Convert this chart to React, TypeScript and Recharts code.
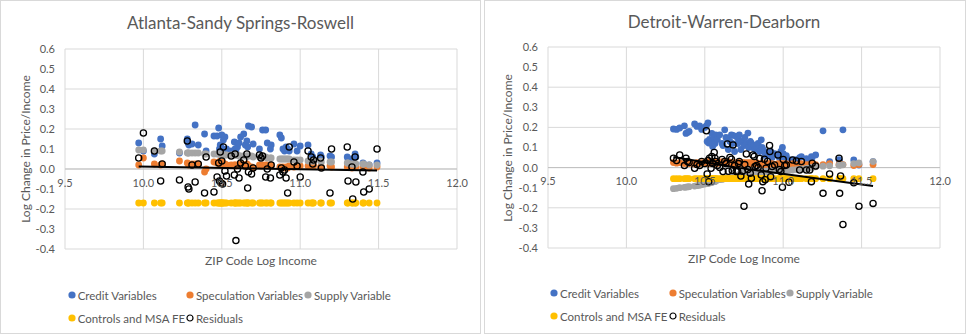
import {
  CartesianGrid,
  ReferenceDot,
  ReferenceLine,
  Scatter,
  ScatterChart,
  XAxis,
  YAxis,
} from "recharts";

const xTicks = [9.5, 10.0, 10.5, 11.0, 11.5, 12.0];
const yTicks = [-0.4, -0.3, -0.2, -0.1, 0.0, 0.1, 0.2, 0.3, 0.4, 0.5, 0.6];

const seriesNames = [
  "Credit Variables",
  "Speculation Variables",
  "Supply Variable",
  "Controls and MSA FE",
  "Residuals",
];
const seriesColors = ["#4472C4", "#ED7D31", "#A5A5A5", "#FFC000", "#000000"];

// Atlanta-Sandy Springs-Roswell
const atlIncome = [
  9.97, 10.0, 10.07, 10.11, 10.12, 10.23, 10.28, 10.285, 10.29, 10.31,
  10.33, 10.35, 10.39, 10.4, 10.45, 10.47, 10.48, 10.485, 10.49, 10.495,
  10.5, 10.505, 10.51, 10.52, 10.53, 10.56, 10.58, 10.585, 10.59, 10.6,
  10.61, 10.62, 10.64, 10.65, 10.66, 10.665, 10.67, 10.69, 10.7, 10.74,
  10.75, 10.76, 10.78, 10.79, 10.81, 10.815, 10.87, 10.88, 10.89, 10.9,
  10.91, 10.92, 10.93, 10.96, 10.98, 11.0, 11.05, 11.07, 11.08, 11.085,
  11.13, 11.135, 11.19, 11.2, 11.3, 11.305, 11.33, 11.335, 11.35, 11.355,
  11.4, 11.405, 11.44, 11.49,
];
const atlCredit = [
  0.13, 0.09, 0.075, 0.15, 0.115, 0.08, 0.15, 0.13, 0.12, 0.125,
  0.22, 0.12, 0.175, 0.09, 0.165, 0.165, 0.205, 0.1, 0.12, 0.11,
  0.17, 0.1, 0.145, 0.16, 0.1, 0.09, 0.135, 0.1, 0.09, 0.11,
  0.13, 0.16, 0.175, 0.12, 0.14, 0.11, 0.215, 0.21, 0.125, 0.1,
  0.06, 0.195, 0.195, 0.13, 0.1, 0.12, 0.17, 0.155, 0.1, 0.09,
  0.11, 0.1, 0.09, 0.125, 0.09, 0.115, 0.12, 0.075, 0.06, 0.05,
  0.07, 0.06, 0.065, 0.06, 0.06, 0.05, 0.05, 0.04, 0.075, 0.06,
  0.03, 0.025, 0.02, 0.03,
];
const atlSpec = [
  0.02, 0.055, 0.025, 0.02, 0.025, 0.04, 0.03, 0.025, 0.02, 0.025,
  0.025, 0.025, -0.015, 0.0, 0.035, 0.03, 0.03, 0.025, 0.04, 0.03,
  0.035, 0.03, 0.02, 0.025, 0.02, 0.02, 0.02, 0.02, 0.015, 0.02,
  0.02, 0.025, 0.02, 0.02, 0.025, 0.02, 0.015, 0.01, 0.005, 0.02,
  0.015, 0.02, 0.02, 0.02, 0.02, 0.015, 0.01, 0.005, 0.01, 0.005,
  0.01, 0.005, 0.015, 0.01, 0.015, 0.015, 0.015, 0.015, 0.015, 0.015,
  0.01, 0.01, 0.015, 0.01, 0.01, 0.01, 0.005, 0.01, 0.01, 0.01,
  0.01, 0.01, 0.005, 0.01,
];
const atlSupply = [
  0.095, 0.095, 0.09, 0.09, 0.09, 0.085, 0.08, 0.08, 0.08, 0.08,
  0.08, 0.08, 0.075, 0.075, 0.075, 0.075, 0.075, 0.075, 0.075, 0.07,
  0.07, 0.07, 0.07, 0.07, 0.07, 0.07, 0.07, 0.07, 0.07, 0.07,
  0.065, 0.065, 0.065, 0.065, 0.065, 0.065, 0.065, 0.065, 0.06, 0.06,
  0.06, 0.06, 0.06, 0.055, 0.055, 0.055, 0.05, 0.05, 0.05, 0.05,
  0.05, 0.05, 0.05, 0.045, 0.045, 0.045, 0.04, 0.04, 0.04, 0.04,
  0.04, 0.035, 0.035, 0.035, 0.03, 0.03, 0.025, 0.025, 0.025, 0.025,
  0.025, 0.025, 0.02, 0.02,
];
const atlControls = [
  -0.17, -0.17, -0.17, -0.17, -0.17, -0.17, -0.17, -0.17, -0.17, -0.17,
  -0.17, -0.17, -0.17, -0.17, -0.17, -0.17, -0.17, -0.17, -0.17, -0.17,
  -0.17, -0.17, -0.17, -0.17, -0.17, -0.17, -0.17, -0.17, -0.17, -0.17,
  -0.17, -0.17, -0.17, -0.17, -0.17, -0.17, -0.17, -0.17, -0.17, -0.17,
  -0.17, -0.17, -0.17, -0.17, -0.17, -0.17, -0.17, -0.17, -0.17, -0.17,
  -0.17, -0.17, -0.17, -0.17, -0.17, -0.17, -0.17, -0.17, -0.17, -0.17,
  -0.17, -0.17, -0.17, -0.17, -0.17, -0.17, -0.17, -0.17, -0.17, -0.17,
  -0.17, -0.17, -0.17, -0.17,
];
const atlResid = [
  0.055, 0.18, 0.09, -0.06, 0.025, -0.055, 0.14, -0.09, -0.1, 0.02,
  -0.065, 0.025, -0.12, 0.06, -0.115, -0.04, 0.03, -0.06, 0.085, -0.07,
  0.04, -0.075, 0.11, -0.01, -0.035, 0.065, -0.03, 0.075, -0.358, 0.0,
  -0.045, 0.03, 0.045, 0.015, 0.075, -0.095, -0.015, -0.025, 0.005, 0.07,
  0.055, 0.065, -0.04, 0.0, -0.045, 0.02, -0.03, 0.005, -0.015, -0.005,
  -0.045, -0.12, 0.11, 0.035, 0.015, -0.04, 0.09, 0.06, 0.025, 0.045,
  0.055, 0.005, -0.12, 0.1, 0.11, -0.06, 0.01, -0.15, 0.06, -0.065,
  -0.015, -0.115, -0.1, 0.1,
];
const atlTrendX = [9.97, 11.49];
const atlTrendY = [0.013, -0.008];

// Detroit-Warren-Dearborn
const detIncome = [
  10.3, 10.32, 10.34, 10.37, 10.38, 10.39, 10.4, 10.435, 10.45, 10.467,
  10.48, 10.5, 10.51, 10.515, 10.52, 10.525, 10.53, 10.54, 10.545, 10.55,
  10.56, 10.565, 10.57, 10.58, 10.595, 10.61, 10.616, 10.627, 10.635, 10.644,
  10.65, 10.66, 10.67, 10.675, 10.68, 10.69, 10.7, 10.71, 10.715, 10.72,
  10.73, 10.74, 10.75, 10.755, 10.765, 10.775, 10.78, 10.79, 10.797, 10.807,
  10.815, 10.82, 10.83, 10.84, 10.85, 10.86, 10.865, 10.87, 10.88, 10.885,
  10.89, 10.9, 10.913, 10.915, 10.92, 10.93, 10.945, 10.967, 10.975, 10.985,
  10.995, 11.0, 11.01, 11.02, 11.037, 11.06, 11.084, 11.105, 11.116, 11.148,
  11.169, 11.18, 11.185, 11.207, 11.254, 11.296, 11.356, 11.36, 11.366, 11.381,
  11.45, 11.483, 11.573,
];
const detCredit = [
  0.192, 0.19, 0.197, 0.208, 0.17, 0.175, 0.18, 0.217, 0.205, 0.208,
  0.19, 0.2, 0.208, 0.13, 0.222, 0.122, 0.14, 0.13, 0.17, 0.105,
  0.15, 0.12, 0.163, 0.14, 0.163, 0.12, 0.11, 0.188, 0.15, 0.147,
  0.09, 0.13, 0.163, 0.12, 0.16, 0.08, 0.155, 0.12, 0.14, 0.163,
  0.09, 0.13, 0.11, 0.15, 0.12, 0.172, 0.1, 0.13, 0.122, 0.1,
  0.11, 0.09, 0.105, 0.12, 0.08, 0.138, 0.1, 0.09, 0.08, 0.07,
  0.06, 0.07, 0.06, 0.08, 0.08, 0.05, 0.07, 0.06, 0.05, 0.08,
  0.1, 0.07, 0.05, 0.06, 0.04, 0.038, 0.04, 0.05, 0.055, 0.045,
  0.04, 0.055, 0.05, 0.063, 0.183, 0.03, 0.04, 0.03, 0.02, 0.188,
  0.038, 0.013, 0.03,
];
const detSpec = [
  0.025, 0.022, 0.025, 0.02, 0.025, 0.022, 0.02, 0.018, 0.025, 0.02,
  0.025, 0.02, 0.03, 0.025, 0.02, 0.03, 0.025, 0.02, 0.03, 0.025,
  0.02, 0.03, 0.025, 0.02, 0.025, 0.03, 0.025, 0.02, 0.025, 0.02,
  0.03, 0.025, 0.02, 0.025, 0.02, 0.025, 0.02, 0.025, 0.02, 0.025,
  0.02, 0.025, 0.02, 0.025, 0.02, 0.025, 0.02, 0.025, 0.02, 0.025,
  0.02, 0.02, 0.025, 0.02, 0.015, 0.02, 0.015, 0.02, 0.015, 0.02,
  0.015, 0.02, 0.015, 0.02, 0.015, 0.02, 0.015, 0.02, 0.015, 0.02,
  0.015, 0.02, 0.015, 0.02, 0.015, 0.02, 0.015, 0.015, 0.02, 0.015,
  0.015, 0.02, 0.015, 0.015, 0.015, 0.02, 0.015, 0.02, 0.015, 0.015,
  0.01, 0.015, 0.015,
];
const detSupply = [
  -0.105, -0.103, -0.1, -0.098, -0.097, -0.096, -0.095, -0.092, -0.09, -0.088,
  -0.085, -0.082, -0.08, -0.079, -0.078, -0.077, -0.076, -0.074, -0.073, -0.072,
  -0.07, -0.069, -0.067, -0.062, -0.06, -0.058, -0.057, -0.055, -0.053, -0.051,
  -0.05, -0.048, -0.046, -0.045, -0.044, -0.042, -0.04, -0.038, -0.036, -0.035,
  -0.033, -0.031, -0.028, -0.028, -0.027, -0.026, -0.025, -0.024, -0.024, -0.023,
  -0.022, -0.022, -0.021, -0.021, -0.02, -0.02, -0.02, -0.019, -0.019, -0.019,
  -0.018, -0.018, -0.018, -0.017, -0.017, -0.017, -0.016, -0.016, -0.015, -0.015,
  -0.015, -0.014, -0.014, -0.013, -0.013, -0.012, -0.01, -0.008, -0.007, -0.004,
  -0.002, 0.0, 0.0, 0.004, 0.007, 0.009, 0.012, 0.013, 0.013, 0.014,
  0.02, 0.024, 0.03,
];
const detControls = [
  -0.055, -0.055, -0.055, -0.055, -0.055, -0.055, -0.055, -0.055, -0.055, -0.055,
  -0.055, -0.055, -0.055, -0.055, -0.055, -0.055, -0.055, -0.055, -0.055, -0.055,
  -0.055, -0.055, -0.055, -0.055, -0.055, -0.055, -0.055, -0.055, -0.055, -0.055,
  -0.055, -0.055, -0.055, -0.055, -0.055, -0.055, -0.055, -0.055, -0.055, -0.055,
  -0.055, -0.055, -0.055, -0.055, -0.055, -0.055, -0.055, -0.055, -0.055, -0.055,
  -0.055, -0.055, -0.055, -0.055, -0.055, -0.055, -0.055, -0.055, -0.055, -0.055,
  -0.055, -0.055, -0.055, -0.055, -0.055, -0.055, -0.055, -0.055, -0.055, -0.055,
  -0.055, -0.055, -0.055, -0.055, -0.055, -0.055, -0.055, -0.055, -0.055, -0.055,
  -0.055, -0.055, -0.055, -0.055, -0.055, -0.055, -0.055, -0.055, -0.055, -0.055,
  -0.055, -0.055, -0.055,
];
const detResid = [
  0.047, 0.035, 0.063, 0.01, 0.047, 0.03, 0.025, -0.003, 0.015, 0.01,
  0.03, 0.02, 0.183, -0.032, 0.035, -0.07, 0.047, -0.003, 0.055, 0.02,
  0.075, 0.047, 0.03, 0.01, 0.0, 0.04, -0.02, 0.03, 0.02, 0.118,
  -0.018, 0.05, 0.042, -0.015, 0.113, 0.01, -0.02, -0.018, 0.02, 0.03,
  -0.042, -0.018, -0.192, 0.015, 0.068, -0.01, -0.082, -0.028, -0.053, 0.063,
  0.055, 0.005, 0.01, 0.0, 0.045, -0.037, -0.115, -0.07, 0.042, -0.06,
  -0.003, 0.03, 0.11, 0.08, -0.045, 0.005, 0.013, 0.063, -0.01, -0.02,
  -0.098, 0.04, 0.01, 0.013, -0.073, 0.038, 0.033, -0.012, 0.03, -0.012,
  -0.012, -0.07, 0.022, 0.008, -0.128, -0.032, 0.047, -0.128, -0.042, -0.283,
  -0.075, -0.192, -0.178,
];
const detTrendX = [10.3, 10.72, 11.573];
const detTrendY = [0.053, -0.002, -0.092];

const TEXT = "#595959";
const FONT = "Lato, 'Open Sans', sans-serif";

type Pt = { x: number; y: number };
const toPoints = (xs: number[], ys: number[]): Pt[] =>
  xs.map((x, i) => ({ x, y: ys[i] }));

type Layout = {
  left: number;
  width: number;
  margin: { top: number; right: number; bottom: number; left: number };
  title: [number, number];
  yLabel: [number, number];
  xLabel: [number, number];
  legendX: [number, number, number];
  legendY: [number, number];
};

type PanelProps = {
  title: string;
  income: number[];
  series: number[][];
  trendX: number[];
  trendY: number[];
  layout: Layout;
};

function Panel({ title, income, series, trendX, trendY, layout }: PanelProps) {
  const trend = toPoints(trendX, trendY);
  const legendPos: [number, number][] = [
    [layout.legendX[0], layout.legendY[0]],
    [layout.legendX[1], layout.legendY[0]],
    [layout.legendX[2], layout.legendY[0]],
    [layout.legendX[0], layout.legendY[1]],
    [layout.legendX[1], layout.legendY[1]],
  ];

  const centered = (x: number, y: number, extra = "") => ({
    position: "absolute" as const,
    left: x,
    top: y,
    transform: `translate(-50%, -50%) ${extra}`,
    whiteSpace: "nowrap" as const,
    color: TEXT,
    fontFamily: FONT,
  });

  return (
    <div
      style={{
        position: "absolute",
        left: layout.left,
        top: 0,
        width: layout.width,
        height: 334,
        background: "#fff",
      }}
    >
      <ScatterChart width={layout.width} height={334} margin={layout.margin}>
        <CartesianGrid stroke="#d9d9d9" />
        <XAxis
          type="number"
          dataKey="x"
          domain={[9.5, 12]}
          ticks={xTicks}
          hide
        />
        <YAxis
          type="number"
          dataKey="y"
          domain={[-0.4, 0.6]}
          ticks={yTicks}
          width={30}
          axisLine={false}
          tickLine={false}
          tickMargin={4}
          tick={{ fill: TEXT, fontSize: 11, fontFamily: FONT }}
          tickFormatter={(v: number) => v.toFixed(1)}
        />
        <ReferenceLine y={0} stroke="#bfbfbf" />
        {xTicks.map((t) => (
          <ReferenceDot
            key={t}
            x={t}
            y={0}
            r={0}
            fill="none"
            stroke="none"
            ifOverflow="visible"
            label={{
              value: t.toFixed(1),
              position: "bottom",
              offset: 10,
              fill: TEXT,
              fontSize: 11,
              fontFamily: FONT,
            }}
          />
        ))}
        {series.map((ys, i) => (
          <Scatter
            key={seriesNames[i]}
            name={seriesNames[i]}
            data={toPoints(income, ys)}
            isAnimationActive={false}
            shape={(p: any) =>
              i === 4 ? (
                <circle
                  cx={p.cx}
                  cy={p.cy}
                  r={3.1}
                  fill="none"
                  stroke="#000"
                  strokeWidth={1.3}
                />
              ) : (
                <circle cx={p.cx} cy={p.cy} r={3.4} fill={seriesColors[i]} />
              )
            }
          />
        ))}
        <Scatter
          name="Trend"
          data={trend}
          isAnimationActive={false}
          line={{ stroke: "#000", strokeWidth: 2 }}
          shape={() => <g />}
        />
      </ScatterChart>

      <div style={{ ...centered(layout.title[0], layout.title[1]), fontSize: 17 }}>
        {title}
      </div>
      <div
        style={{
          ...centered(layout.yLabel[0], layout.yLabel[1], "rotate(-90deg)"),
          fontSize: 12,
        }}
      >
        Log Change in Price/Income
      </div>
      <div style={{ ...centered(layout.xLabel[0], layout.xLabel[1]), fontSize: 12 }}>
        ZIP Code Log Income
      </div>
      {legendPos.map(([lx, ly], i) => (
        <div
          key={seriesNames[i]}
          style={{
            position: "absolute",
            left: lx - 4,
            top: ly - 8,
            height: 16,
            display: "flex",
            alignItems: "center",
            whiteSpace: "nowrap",
            color: TEXT,
            fontFamily: FONT,
            fontSize: 11.5,
          }}
        >
          <svg width={8} height={8} style={{ marginRight: 2 }}>
            {i === 4 ? (
              <circle cx={4} cy={4} r={3} fill="none" stroke="#000" strokeWidth={1.2} />
            ) : (
              <circle cx={4} cy={4} r={3.6} fill={seriesColors[i]} />
            )}
          </svg>
          {seriesNames[i]}
        </div>
      ))}
      <div
        style={{
          position: "absolute",
          inset: 0,
          border: "1px solid #d9d9d9",
          pointerEvents: "none",
        }}
      />
    </div>
  );
}

const atlLayout: Layout = {
  left: 0,
  width: 481,
  margin: { top: 49, right: 24, bottom: 85, left: 35 },
  title: [240.5, 22],
  yLabel: [25, 149],
  xLabel: [261, 260],
  legendX: [71.7, 190, 308],
  legendY: [295, 318],
};

const detLayout: Layout = {
  left: 484,
  width: 482,
  margin: { top: 47, right: 26, bottom: 86, left: 34 },
  title: [240, 21],
  yLabel: [23, 147.5],
  xLabel: [260, 258],
  legendX: [70, 188.7, 306],
  legendY: [293, 316],
};

export default function App() {
  return (
    <div style={{ position: "absolute", left: 0, top: 0, width: 967, height: 334 }}>
      <Panel
        title="Atlanta-Sandy Springs-Roswell"
        income={atlIncome}
        series={[atlCredit, atlSpec, atlSupply, atlControls, atlResid]}
        trendX={atlTrendX}
        trendY={atlTrendY}
        layout={atlLayout}
      />
      <Panel
        title="Detroit-Warren-Dearborn"
        income={detIncome}
        series={[detCredit, detSpec, detSupply, detControls, detResid]}
        trendX={detTrendX}
        trendY={detTrendY}
        layout={detLayout}
      />
    </div>
  );
}
